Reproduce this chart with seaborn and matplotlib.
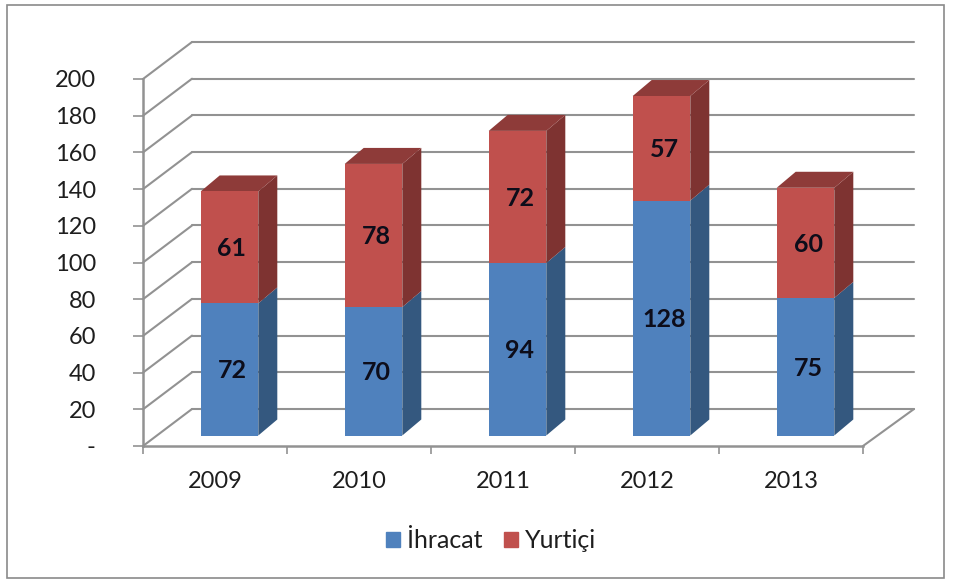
"""Stacked pseudo-3D bars: İhracat and Yurtiçi per year, 2009-2013."""

import matplotlib

matplotlib.use("Agg")

import matplotlib.pyplot as plt
import pandas as pd
import seaborn as sns
from matplotlib.patches import Patch, Rectangle
from matplotlib.transforms import Affine2D

YEARS = ["2009", "2010", "2011", "2012", "2013"]
IHRACAT = [72, 70, 94, 128, 75]
YURTICI = [61, 78, 72, 57, 60]
Y_TICKS = list(range(0, 201, 20))
Y_LABELS = ["-"] + [str(tick) for tick in Y_TICKS[1:]]

FIG_W, FIG_H = 957, 581
LEFT, RIGHT, TOP, BOTTOM = 143, 863, 79, 446
PX_X = (RIGHT - LEFT) / len(YEARS)
PX_Y = (BOTTOM - TOP) / 200

BLUE, BLUE_SIDE = "#4F81BD", "#34587F"
RED, RED_SIDE, RED_TOP = "#C0504D", "#7E3331", "#8E3B39"
LINE = "#929292"
TEXT = "#1E1E1E"

sns.set_theme(style="white")
plt.rcParams["font.family"] = ["Lato", "DejaVu Sans"]

fig = plt.figure(figsize=(FIG_W / 100, FIG_H / 100), dpi=100, facecolor="white")
ax = fig.add_axes([
    LEFT / FIG_W,
    1 - BOTTOM / FIG_H,
    (RIGHT - LEFT) / FIG_W,
    (BOTTOM - TOP) / FIG_H,
])

data = pd.DataFrame({"year": YEARS, "ihracat": IHRACAT, "yurtici": YURTICI})
sns.barplot(data=data, x="year", y="ihracat", color=BLUE, saturation=1,
            width=0.4, ax=ax, zorder=5, linewidth=0, edgecolor="none")
n_blue = len(ax.patches)
sns.barplot(data=data, x="year", y="yurtici", bottom=data["ihracat"], color=RED,
            saturation=1, width=0.4, ax=ax, zorder=5, linewidth=0, edgecolor="none")

ax.set_xlim(-0.5, len(YEARS) - 0.5)
ax.set_ylim(0, 200)
ax.set_xlabel("")
ax.set_ylabel("")

# back wall and the slanted lines joining it to the front axis
wall_dx = 49 / PX_X
wall_dy = 37 / PX_Y
back_end = len(YEARS) - 0.5 + 51 / PX_X
for tick in Y_TICKS:
    ax.plot([-0.5, -0.5 + wall_dx], [tick, tick + wall_dy], color=LINE, lw=1.5,
            clip_on=False, zorder=1)
    ax.plot([-0.5 + wall_dx, back_end], [tick + wall_dy, tick + wall_dy],
            color=LINE, lw=1.5, clip_on=False, zorder=1)
ax.plot([len(YEARS) - 0.5, back_end], [0, wall_dy], color=LINE, lw=1.5,
        clip_on=False, zorder=1)

# bars stand in the middle of the floor, so push them back a little
bar_shift = ax.transData + Affine2D().translate(14.5, 10.5)
label_shift = bar_shift + Affine2D().translate(2.5, -1.5)
depth_x = 19 / PX_X
depth_y = 16 / PX_Y

for index, bar in enumerate(ax.patches):
    bar.set_transform(bar_shift)
    bar.set_clip_on(False)
    x0 = bar.get_x()
    x1 = x0 + bar.get_width()
    y0 = bar.get_y()
    y1 = y0 + bar.get_height()
    side = BLUE_SIDE if index < n_blue else RED_SIDE
    ax.fill([x1, x1 + depth_x, x1 + depth_x, x1],
            [y0, y0 + depth_y, y1 + depth_y, y1],
            color=side, lw=0, transform=bar_shift, clip_on=False, zorder=4)
    if index >= n_blue:
        ax.fill([x0, x0 + depth_x, x1 + depth_x, x1],
                [y1, y1 + depth_y, y1 + depth_y, y1],
                color=RED_TOP, lw=0, transform=bar_shift, clip_on=False, zorder=4)
    ax.text((x0 + x1) / 2, (y0 + y1) / 2, f"{bar.get_height():.0f}",
            ha="center", va="center", fontsize=18, fontweight="bold",
            color="#0D0D1A", transform=label_shift, zorder=6)

# ticks sit on category edges, year labels between them
ax.set_xticks([i - 0.5 for i in range(len(YEARS) + 1)])
ax.set_xticklabels([])
ax.set_xticks(range(len(YEARS)), YEARS, minor=True)
ax.tick_params(axis="x", which="major", length=6, width=1.2, color=LINE, bottom=True)
ax.tick_params(axis="x", which="minor", length=0, pad=18, labelsize=17,
               labelcolor=TEXT)
ax.set_yticks(Y_TICKS, Y_LABELS)
ax.tick_params(axis="y", length=7, width=1.2, color=LINE, left=True, pad=27,
               labelsize=17, labelcolor=TEXT)

sns.despine(ax=ax)
for name in ["left", "bottom"]:
    ax.spines[name].set_color(LINE)
    ax.spines[name].set_linewidth(1.8)
    ax.spines[name].set_zorder(2)

handles = [Patch(color=BLUE, label="İhracat"), Patch(color=RED, label="Yurtiçi")]
fig.legend(handles=handles, loc="center", bbox_to_anchor=(491 / FIG_W, 1 - 541 / FIG_H),
           ncol=2, frameon=False, fontsize=18, labelcolor=TEXT, handlelength=0.55,
           handleheight=0.55, handletextpad=0.3, columnspacing=0.85)

fig.add_artist(Rectangle((7 / FIG_W, 1 - 578 / FIG_H), 937 / FIG_W, 573 / FIG_H,
                         transform=fig.transFigure, fill=False, edgecolor="#8A8A8A",
                         lw=1.2))

fig.savefig("out.png", dpi=100)
plt.close(fig)
